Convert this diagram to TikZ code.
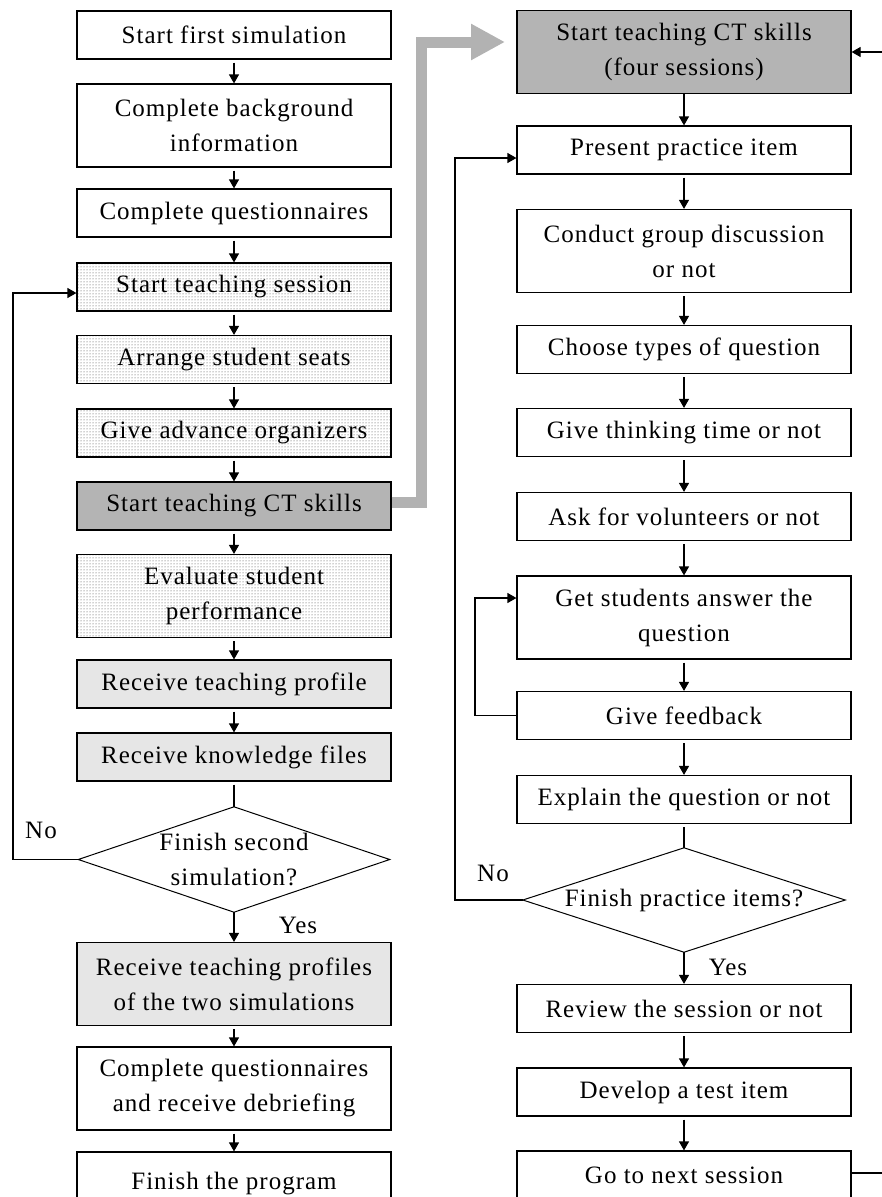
\documentclass[tikz,border=0pt]{standalone}
\usepackage{fontspec}
\setmainfont{Liberation Serif}[LetterSpace=4]
\usetikzlibrary{arrows.meta,shapes.geometric,patterns}
\definecolor{dkfill}{RGB}{180,180,180}
\definecolor{ltfill}{RGB}{230,230,230}
\definecolor{gband}{RGB}{178,178,178}
\begin{document}
\begin{tikzpicture}[x=1pt,y=-1pt,
  txt/.style={font=\fontsize{25}{35}\selectfont},
  bx/.style={txt, draw=black, line width=1.2pt, align=center, inner sep=0pt, minimum height=48pt},
  lbox/.style={bx, minimum width=314pt},
  rbox/.style={bx, minimum width=334pt},
  tall/.style={minimum height=83pt},
  dotbox/.style={preaction={fill=white}, pattern=dots, pattern color=black!75},
  ltbox/.style={fill=ltfill},
  dkbox/.style={fill=dkfill},
  dia/.style={txt, align=center, inner sep=0pt},
  diaedge/.style={draw=black, line width=1pt},
  conn/.style={line width=1.2pt},
  arr/.style={conn, -{Triangle[width=10pt,length=9pt]}, shorten <=3pt},
  lbl/.style={txt}]
\useasboundingbox (0,0) rectangle (882,1197);
\clip (0,0) rectangle (882,1197);
\fill[white] (0,0) rectangle (882,1197);

\coordinate (gtip) at (505,42);

% left column
\node[lbox] (L1) at (234,35) {Start first simulation};
\node[lbox,tall] (L2) at (234,125.5) {Complete background\\information};
\node[lbox] (L3) at (234,213) {Complete questionnaires};
\node[lbox,dotbox] (L4) at (234,287) {Start teaching session};
\node[lbox,dotbox] (L5) at (234,359.5) {Arrange student seats};
\node[lbox,dotbox] (L6) at (234,433) {Give advance organizers};
\node[lbox,dkbox] (L7) at (234,506) {Start teaching CT skills};
\node[lbox,dotbox,tall] (L8) at (234,596) {Evaluate student\\performance};
\node[lbox,ltbox] (L9) at (234,684) {Receive teaching profile};
\node[lbox,ltbox] (L10) at (234,757) {Receive knowledge files};
\node[dia, minimum width=311pt, minimum height=105pt] (D1) at (234,859.5) {Finish second\\simulation?};
\draw[diaedge] (D1.north) -- (D1.east) -- (D1.south) -- (D1.west) -- cycle;
\node[lbox,ltbox,tall] (L11) at (234,984) {Receive teaching profiles\\of the two simulations};
\node[lbox,tall] (L12) at (234,1088.5) {Complete questionnaires\\and receive debriefing};
\node[lbox,minimum height=64pt] (L13) at (234,1184) {Finish the program};

% right column
\node[rbox,dkbox,tall] (R1) at (684,52) {Start teaching CT skills\\(four sessions)};
\node[rbox] (R2) at (684,150) {Present practice item};
\node[rbox,tall] (R3) at (684,251) {Conduct group discussion\\or not};
\node[rbox] (R4) at (684,349.5) {Choose types of question};
\node[rbox] (R5) at (684,432.5) {Give thinking time or not};
\node[rbox] (R6) at (684,516.5) {Ask for volunteers or not};
\node[rbox,tall] (R7) at (684,617.5) {Get students answer the\\question};
\node[rbox] (R8) at (684,715.5) {Give feedback};
\node[rbox] (R9) at (684,799.5) {Explain the question or not};
\node[dia, minimum width=322pt, minimum height=104pt] (D2) at (684,900) {Finish practice items?};
\draw[diaedge] (D2.north) -- (D2.east) -- (D2.south) -- (D2.west) -- cycle;
\node[rbox] (R10) at (684,1008.5) {Review the session or not};
\node[rbox] (R11) at (684,1092) {Develop a test item};
\node[rbox] (R12) at (684,1175) {Go to next session};

% labels
\node[lbl] (no1) at (41,830) {No};
\node[lbl] (yes1) at (298,925) {Yes};
\node[lbl] (no2) at (493,873) {No};
\node[lbl] (yes2) at (728,967) {Yes};

% gray band arrow
\draw[gband, line width=11pt, line join=miter, -{Triangle[length=34pt,width=34pt]}]
  ([yshift=4pt]L7.east) -| (421,42) -- (gtip);

% left connectors
\draw[arr] (L1.south) -- (L2.north);
\draw[arr] (L2.south) -- (L3.north);
\draw[arr] (L3.south) -- (L4.north);
\draw[arr] (L4.south) -- (L5.north);
\draw[arr] (L5.south) -- (L6.north);
\draw[arr] (L6.south) -- (L7.north);
\draw[arr] (L7.south) -- (L8.north);
\draw[arr] (L8.south) -- (L9.north);
\draw[arr] (L9.south) -- (L10.north);
\draw[conn, shorten <=3pt] (L10.south) -- (D1.north);
\draw[arr, shorten <=0pt] (D1.south) -- (L11.north);
\draw[arr] (L11.south) -- (L12.north);
\draw[arr] (L12.south) -- (L13.north);
\draw[arr, shorten <=0pt] (D1.west) -- (13,859.5) |- ([yshift=-6pt]L4.west);

% right connectors
\draw[arr, shorten <=0pt] (R1.south) -- (R2.north);
\draw[arr] (R2.south) -- (R3.north);
\draw[arr] (R3.south) -- (R4.north);
\draw[arr] (R4.south) -- (R5.north);
\draw[arr] (R5.south) -- (R6.north);
\draw[arr] (R6.south) -- (R7.north);
\draw[arr] (R7.south) -- (R8.north);
\draw[arr] (R8.south) -- (R9.north);
\draw[conn, shorten <=3pt] (R9.south) -- (D2.north);
\draw[arr, shorten <=0pt] (D2.south) -- (R10.north);
\draw[arr] (R10.south) -- (R11.north);
\draw[arr] (R11.south) -- (R12.north);
\draw[arr, shorten <=0pt] (R8.west) -- (475,715.5) |- ([yshift=19.5pt]R7.west);
\draw[arr, shorten <=0pt] (D2.west) -- (455,900) |- ([yshift=-8pt]R2.west);
\draw[arr, shorten <=0pt] ([yshift=2pt]R12.east) -- (890,1173) |- (R1.east);
\end{tikzpicture}
\end{document}
